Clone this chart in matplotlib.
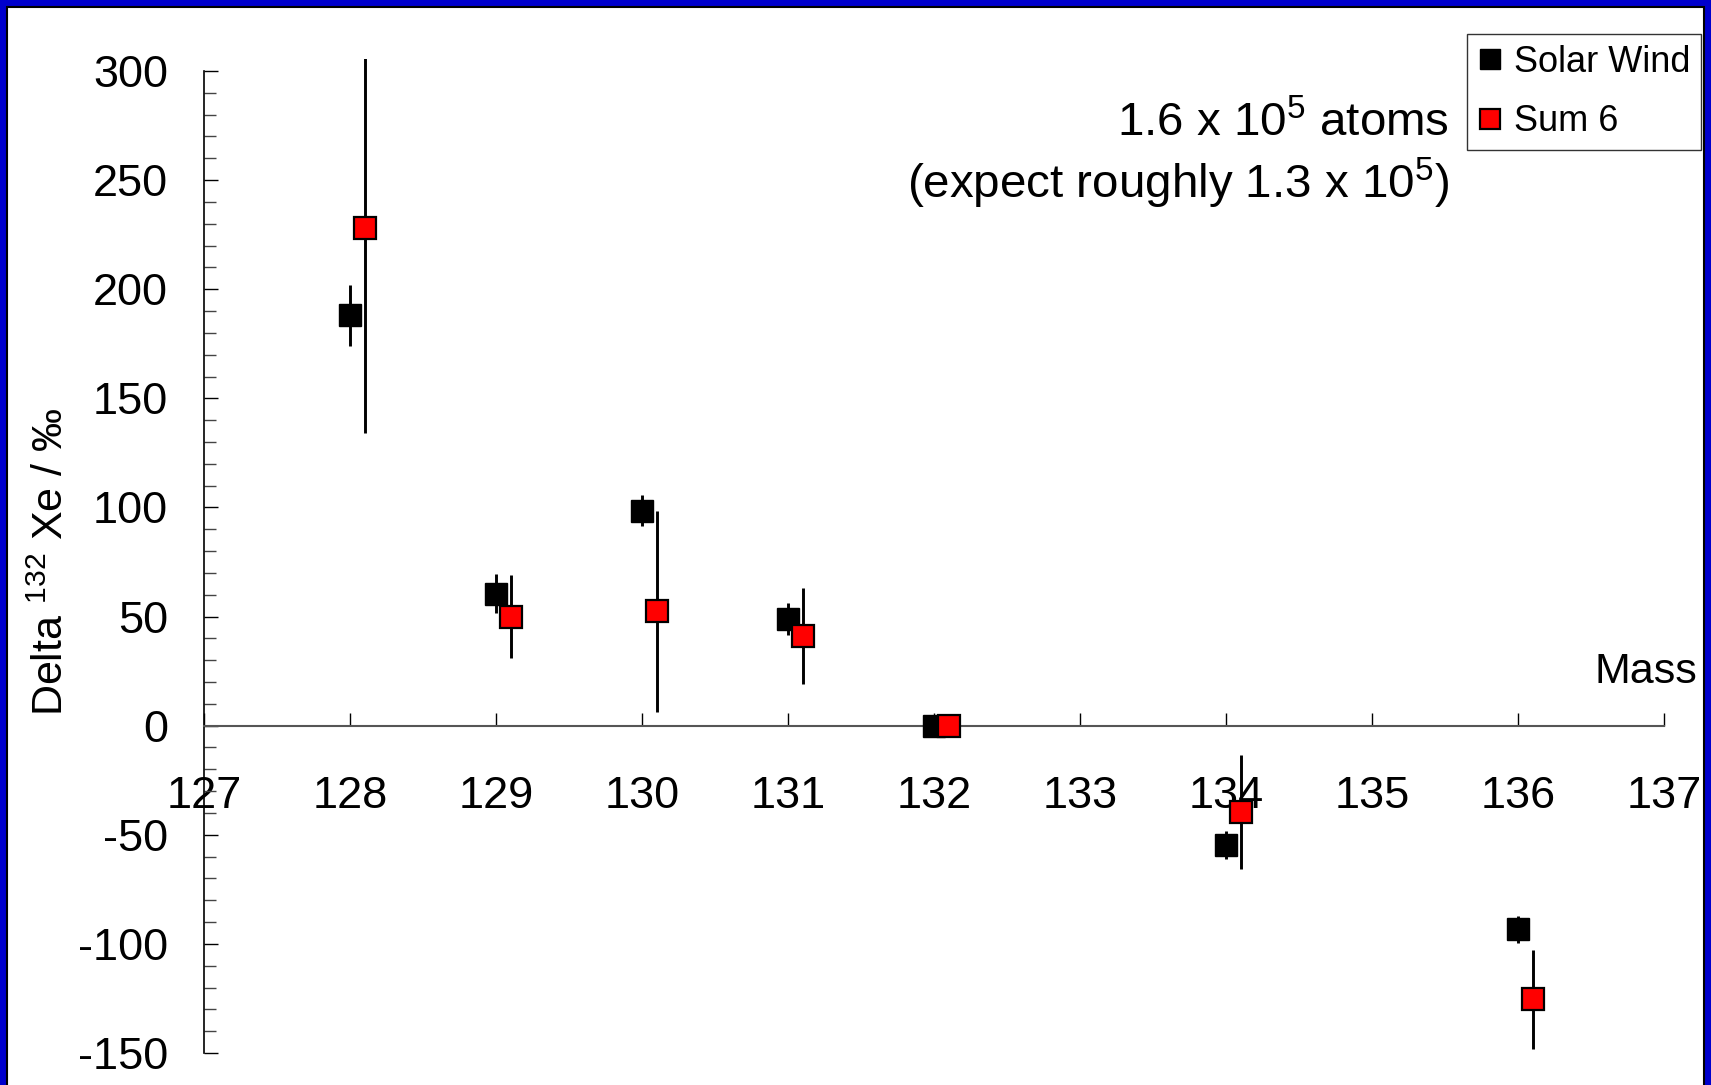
import matplotlib
matplotlib.use("Agg")
import matplotlib.pyplot as plt
from matplotlib.lines import Line2D
from matplotlib.patches import Rectangle
from matplotlib.ticker import MultipleLocator

plt.rcParams['font.family'] = ['Liberation Sans', 'DejaVu Sans']
plt.rcParams['mathtext.fontset'] = 'custom'
plt.rcParams['mathtext.rm'] = 'Liberation Sans'
plt.rcParams['mathtext.it'] = 'Liberation Sans'

# ---- data ----
masses = [128, 129, 130, 131, 132, 134, 136]
solar_wind = [188.0, 60.5, 98.5, 48.7, 0.0, -54.7, -93.4]
solar_wind_err = [14.0, 9.0, 7.0, 7.3, 1.0, 6.5, 6.0]
sum6 = [228.0, 50.0, 52.4, 41.1, 0.0, -39.5, -125.3]
sum6_err = [94.0, 19.0, 46.0, 22.0, 1.0, 26.0, 22.7]
series_labels = ["Solar Wind", "Sum 6"]
x_ticks = list(range(127, 138))
y_ticks = list(range(-150, 301, 50))

W, H = 1711, 1085
fig = plt.figure(figsize=(W / 100, H / 100), dpi=100)
fig.patch.set_facecolor('#0000CC')
bg = Rectangle((7 / W, -0.05), (W - 14) / W, 1.05 - 7 / H,
               transform=fig.transFigure, facecolor='white',
               edgecolor='black', linewidth=1.5, zorder=-10)
fig.patches.append(bg)

left, right = 204 / W, 1664 / W
bottom = (H - 1053) / H
top = (H - 59) / H
ax = fig.add_axes([left, bottom, right - left, top - bottom])
ax.set_zorder(5)
ax.set_facecolor('none')
ax.set_xlim(127, 137)
ax.set_ylim(-150, 305.5)

offset = 0.1
ms = 15.8
ax.errorbar(masses, solar_wind, yerr=solar_wind_err, fmt='s', color='black',
            ecolor='black', elinewidth=2.1, capsize=0, markersize=ms,
            markerfacecolor='black', markeredgecolor='black', zorder=3)
ax.errorbar([m + offset for m in masses], sum6, yerr=sum6_err, fmt='s',
            ecolor='black', elinewidth=2.1, capsize=0, markersize=ms,
            markerfacecolor='#FF0000', markeredgecolor='black',
            markeredgewidth=1.6, zorder=4)

# spines
ax.spines['top'].set_visible(False)
ax.spines['right'].set_visible(False)
ax.spines['bottom'].set_position(('data', 0))
ax.spines['bottom'].set_color('#555555')
ax.spines['bottom'].set_linewidth(1.5)
ax.spines['left'].set_bounds(-150, 300)
ax.spines['left'].set_linewidth(1.2)

ax.set_xticks(x_ticks)
ax.set_xticklabels([str(t) for t in x_ticks])
ax.set_yticks(y_ticks)
ax.set_yticklabels([str(t) for t in y_ticks])
ax.yaxis.set_minor_locator(MultipleLocator(10))
ax.tick_params(axis='x', direction='in', length=9.5, width=1.0, pad=36,
               labelsize=32.5, color='black')
ax.tick_params(axis='y', which='major', direction='in', length=10, width=1.0,
               pad=26, labelsize=32.5)
ax.tick_params(axis='y', which='minor', direction='in', length=8.5, width=1.0,
               color='#444444')

# labels
fig.text(52 / W, (H - 562) / H, r"Delta $^{132}$ Xe / ‰", rotation=90,
         ha='center', va='center', fontsize=31)
fig.text(1697 / W, (H - 672) / H, "Mass", ha='right', va='center', fontsize=31)

fig.text(1449 / W, (H - 124) / H, r"1.6 x 10$^{5}$ atoms", ha='right',
         va='center', fontsize=34.2)
fig.text(1449 / W, (H - 183) / H, r"(expect roughly 1.3 x 10$^{5}$)", ha='right',
         va='center', fontsize=34.2)

handles = [
    Line2D([], [], marker='s', linestyle='none', markersize=15,
           markerfacecolor='black', markeredgecolor='black'),
    Line2D([], [], marker='s', linestyle='none', markersize=15,
           markerfacecolor='#FF0000', markeredgecolor='black', markeredgewidth=1.6),
]
leg = fig.legend(handles, series_labels, loc='upper right',
                 bbox_to_anchor=(1701 / W, 1 - 34 / H), bbox_transform=fig.transFigure,
                 fontsize=26, frameon=True, fancybox=False, edgecolor='black',
                 borderaxespad=0, borderpad=0.3, handlelength=0.7,
                 handletextpad=0.3, labelspacing=0.68)
leg.get_frame().set_linewidth(1.0)
leg.set_zorder(6)

fig.savefig("out.png", dpi=100, facecolor=fig.get_facecolor())
